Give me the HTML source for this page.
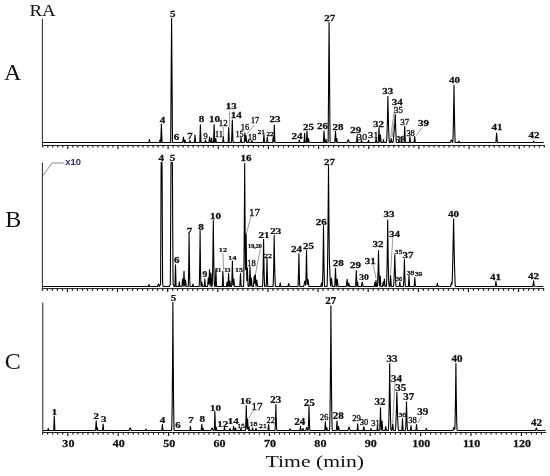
<!DOCTYPE html>
<html><head><meta charset="utf-8"><title>Chromatogram</title>
<style>html,body{margin:0;padding:0;background:#fff}svg{display:block}</style></head>
<body>
<svg width="550" height="476" viewBox="0 0 550 476">
<style>
text{font-family:"Liberation Serif",serif;fill:#111;text-anchor:middle}
.l text{stroke:#111;stroke-width:.3}
.l text.b{stroke-width:.25}
.b{font-weight:bold}
.ax{stroke:#222;stroke-width:1;fill:none}
.tk{stroke:#111;stroke-width:1.15;fill:none}
.tr{stroke:#000;stroke-width:1.1;fill:none;stroke-linejoin:round}
.ld{stroke:#555;stroke-width:0.6;fill:none}
.big{font-size:24px}
.axl{font-size:10.4px;font-weight:bold;stroke:#111;stroke-width:.25}
</style>
<rect width="550" height="476" fill="#fff"/>
<g class="l">
<line x1="42.4" y1="18.8" x2="42.4" y2="145.5" class="ax"/>
<line x1="42.4" y1="145.5" x2="544.5" y2="145.5" class="ax"/>
<path d="M42.72,145.5v2.1M47.74,145.5v2.1M52.75,145.5v2.1M57.77,145.5v2.1M62.78,145.5v2.1M67.80,145.5v3.4M72.82,145.5v2.1M77.83,145.5v2.1M82.85,145.5v2.1M87.86,145.5v2.1M92.88,145.5v2.1M97.90,145.5v2.1M102.91,145.5v2.1M107.93,145.5v2.1M112.94,145.5v2.1M117.96,145.5v3.4M122.98,145.5v2.1M127.99,145.5v2.1M133.01,145.5v2.1M138.02,145.5v2.1M143.04,145.5v2.1M148.06,145.5v2.1M153.07,145.5v2.1M158.09,145.5v2.1M163.10,145.5v2.1M168.12,145.5v3.4M173.14,145.5v2.1M178.15,145.5v2.1M183.17,145.5v2.1M188.18,145.5v2.1M193.20,145.5v2.1M198.22,145.5v2.1M203.23,145.5v2.1M208.25,145.5v2.1M213.26,145.5v2.1M218.28,145.5v3.4M223.30,145.5v2.1M228.31,145.5v2.1M233.33,145.5v2.1M238.34,145.5v2.1M243.36,145.5v2.1M248.38,145.5v2.1M253.39,145.5v2.1M258.41,145.5v2.1M263.42,145.5v2.1M268.44,145.5v3.4M273.46,145.5v2.1M278.47,145.5v2.1M283.49,145.5v2.1M288.50,145.5v2.1M293.52,145.5v2.1M298.54,145.5v2.1M303.55,145.5v2.1M308.57,145.5v2.1M313.58,145.5v2.1M318.60,145.5v3.4M323.62,145.5v2.1M328.63,145.5v2.1M333.65,145.5v2.1M338.66,145.5v2.1M343.68,145.5v2.1M348.70,145.5v2.1M353.71,145.5v2.1M358.73,145.5v2.1M363.74,145.5v2.1M368.76,145.5v3.4M373.78,145.5v2.1M378.79,145.5v2.1M383.81,145.5v2.1M388.82,145.5v2.1M393.84,145.5v2.1M398.86,145.5v2.1M403.87,145.5v2.1M408.89,145.5v2.1M413.90,145.5v2.1M418.92,145.5v3.4M423.94,145.5v2.1M428.95,145.5v2.1M433.97,145.5v2.1M438.98,145.5v2.1M444.00,145.5v2.1M449.02,145.5v2.1M454.03,145.5v2.1M459.05,145.5v2.1M464.06,145.5v2.1M469.08,145.5v3.4M474.10,145.5v2.1M479.11,145.5v2.1M484.13,145.5v2.1M489.14,145.5v2.1M494.16,145.5v2.1M499.18,145.5v2.1M504.19,145.5v2.1M509.21,145.5v2.1M514.22,145.5v2.1M519.24,145.5v3.4M524.26,145.5v2.1M529.27,145.5v2.1M534.29,145.5v2.1M539.30,145.5v2.1M544.32,145.5v2.1" class="tk"/>
<path d="M42.4,142.5 L148.8,142.5 L149.4,139.6 L150.0,142.5 L159.4,142.5 L160.0,140.0 L160.6,142.5 L160.7,142.5 L160.8,140.8 L161.4,124.0 L162.0,140.8 L162.1,142.5 L170.7,142.5 L171.6,18.5 L172.5,142.5 L182.6,142.5 L182.7,142.3 L183.4,137.0 L184.1,142.3 L184.4,142.5 L185.0,140.0 L185.6,142.5 L189.4,142.5 L190.0,140.5 L190.6,142.5 L194.4,142.5 L195.0,135.0 L195.6,142.5 L199.8,142.5 L200.4,124.8 L201.0,142.5 L204.9,142.5 L205.5,140.0 L206.1,142.5 L209.0,142.5 L209.6,137.0 L210.2,142.5 L211.0,142.5 L211.6,138.0 L212.2,142.5 L213.5,142.5 L214.1,124.6 L214.7,142.5 L215.2,142.5 L215.8,138.5 L216.4,142.5 L222.7,142.5 L223.3,136.5 L223.9,142.5 L228.1,142.5 L228.7,127.5 L229.3,142.5 L231.5,142.5 L231.6,141.9 L232.3,120.0 L233.0,141.9 L233.1,142.5 L240.4,142.5 L241.0,137.5 L241.6,142.5 L244.3,142.5 L244.9,133.0 L245.4,140.9 L245.5,141.3 L246.0,135.5 L246.6,142.5 L247.9,142.5 L248.5,139.5 L249.1,142.5 L251.4,142.5 L252.0,140.5 L252.6,142.5 L263.3,142.5 L263.9,134.5 L264.5,142.5 L266.7,142.5 L267.3,137.0 L267.9,142.5 L272.6,142.5 L273.2,137.0 L273.7,141.6 L273.8,139.6 L274.3,125.0 L274.9,142.5 L298.7,142.5 L299.3,140.0 L299.9,142.5 L304.0,142.5 L304.6,133.3 L305.2,142.5 L306.3,142.5 L306.4,141.5 L307.0,131.4 L307.6,141.5 L307.7,142.5 L307.9,142.5 L308.5,138.5 L309.1,142.5 L323.3,142.5 L323.4,141.4 L324.0,130.7 L324.6,141.4 L324.7,142.5 L325.4,142.5 L326.0,139.0 L326.6,142.5 L328.1,142.5 L328.2,135.0 L329.1,22.4 L330.0,135.0 L330.1,142.5 L334.7,142.5 L334.8,142.2 L335.5,131.4 L336.2,142.2 L336.3,141.8 L336.8,138.5 L337.4,142.5 L347.1,142.5 L348.2,139.6 L349.2,142.3 L349.3,142.5 L356.5,142.5 L357.1,135.8 L357.7,142.5 L360.9,142.5 L361.5,140.0 L362.1,142.5 L367.9,142.5 L368.5,140.2 L369.1,142.5 L375.5,142.5 L376.1,138.0 L376.7,142.5 L378.2,142.5 L378.3,142.1 L379.0,127.8 L379.7,142.1 L379.8,141.2 L380.4,135.0 L381.1,142.3 L381.2,142.5 L382.9,142.5 L383.5,139.5 L384.1,142.5 L386.3,142.5 L386.4,142.2 L386.5,141.6 L386.6,140.7 L386.7,139.4 L386.8,137.7 L386.9,135.7 L387.0,133.4 L387.1,130.6 L387.2,127.6 L387.3,124.1 L387.4,120.4 L387.5,116.2 L387.6,111.8 L387.7,106.9 L387.8,101.7 L387.9,96.2 L388.0,101.7 L388.1,106.9 L388.2,111.8 L388.3,116.2 L388.4,120.4 L388.5,124.1 L388.6,127.6 L388.7,130.6 L388.8,133.4 L388.9,135.7 L389.0,137.7 L389.1,139.4 L389.2,140.7 L389.3,141.6 L389.4,142.2 L389.5,142.5 L390.4,142.5 L390.5,142.4 L391.2,138.5 L391.9,142.4 L392.9,142.5 L393.0,142.4 L393.2,141.1 L393.4,139.3 L393.7,136.3 L394.0,132.8 L394.4,127.7 L394.8,122.1 L395.2,116.1 L395.3,114.6 L395.5,121.4 L395.7,127.7 L395.9,133.4 L396.0,136.0 L396.1,138.4 L396.2,140.4 L396.3,142.1 L396.4,142.5 L398.4,142.5 L399.0,139.5 L399.6,142.5 L400.9,142.5 L401.5,137.5 L402.1,142.5 L404.0,142.5 L404.1,141.0 L404.7,126.3 L405.3,141.0 L405.4,142.5 L409.3,142.5 L409.9,136.6 L410.5,142.5 L414.1,142.5 L414.7,136.6 L415.3,142.5 L450.3,142.5 L451.5,140.0 L452.7,142.5 L452.8,142.5 L452.9,141.1 L453.0,138.6 L453.1,135.3 L453.2,131.4 L453.3,127.0 L453.4,122.2 L453.5,116.9 L453.6,111.2 L453.7,105.2 L453.8,98.8 L453.9,92.0 L454.0,85.0 L454.1,92.0 L454.2,98.8 L454.3,105.2 L454.4,111.2 L454.5,116.9 L454.6,122.2 L454.7,127.0 L454.8,131.4 L454.9,135.3 L455.0,138.6 L455.1,141.1 L455.2,142.5 L458.4,142.5 L459.0,141.0 L459.6,142.5 L495.8,142.5 L495.9,142.2 L496.6,133.0 L497.3,142.2 L497.4,142.5 L532.8,142.5 L533.6,141.2 L534.3,142.5 L543.8,142.5" class="tr"/>
<polyline points="223.3,127.0 223.3,135.8" class="ld"/>
<polyline points="229.6,111.6 229.6,127.0" class="ld"/>
<polyline points="254.2,125.0 247.0,134.0" class="ld"/>
<polyline points="421.6,127.8 416.5,135.6" class="ld"/>
<polyline points="395.1,105.7 390.6,137.4" class="ld"/>
<polyline points="395.4,114.0 392.0,137.4" class="ld"/>
<text transform="translate(162.6 122.8) scale(1.294 1)" font-size="8.5" class="b">4</text>
<text transform="translate(172.8 16.9) scale(1.294 1)" font-size="8.5" class="b">5</text>
<text transform="translate(176.6 140.3) scale(1.294 1)" font-size="8.5" class="b">6</text>
<text transform="translate(190.0 139.0) scale(1.294 1)" font-size="8.5" class="b">7</text>
<text transform="translate(201.4 121.8) scale(1.294 1)" font-size="8.5" class="b">8</text>
<text transform="translate(205.4 138.5) scale(1.15 1)" font-size="7.76">9</text>
<text transform="translate(214.6 121.8) scale(1.294 1)" font-size="8.5" class="b">10</text>
<text transform="translate(219.0 136.6) scale(1.15 1)" font-size="7.27">11</text>
<text transform="translate(223.3 126.2) scale(1.15 1)" font-size="7.76">12</text>
<text transform="translate(231.3 109.0) scale(1.294 1)" font-size="8.5" class="b">13</text>
<text transform="translate(236.2 118.2) scale(1.294 1)" font-size="8.5" class="b">14</text>
<text transform="translate(239.6 136.6) scale(1.15 1)" font-size="7.27">15</text>
<text transform="translate(245.0 129.6) scale(1.15 1)" font-size="7.27">16</text>
<text transform="translate(255.1 123.0) scale(1.15 1)" font-size="7.27">17</text>
<text transform="translate(252.2 139.6) scale(1.15 1)" font-size="7.27">18</text>
<text transform="translate(261.2 134.0) scale(1.15 1)" font-size="6.4">21</text>
<text transform="translate(270.0 136.4) scale(1.15 1)" font-size="6.21">22</text>
<text transform="translate(275.0 121.8) scale(1.294 1)" font-size="8.5" class="b">23</text>
<text transform="translate(297.0 139.0) scale(1.294 1)" font-size="8.5" class="b">24</text>
<text transform="translate(308.4 129.5) scale(1.294 1)" font-size="8.5" class="b">25</text>
<text transform="translate(322.6 128.8) scale(1.294 1)" font-size="8.5" class="b">26</text>
<text transform="translate(329.8 20.8) scale(1.294 1)" font-size="8.5" class="b">27</text>
<text transform="translate(338.1 129.5) scale(1.294 1)" font-size="8.5" class="b">28</text>
<text transform="translate(355.8 132.6) scale(1.294 1)" font-size="8.5" class="b">29</text>
<text transform="translate(362.0 140.3) scale(1.15 1)" font-size="9.02">30</text>
<text transform="translate(373.3 138.0) scale(1.15 1)" font-size="9.02">31</text>
<text transform="translate(378.5 126.6) scale(1.294 1)" font-size="8.5" class="b">32</text>
<text transform="translate(387.7 94.3) scale(1.294 1)" font-size="8.5" class="b">33</text>
<text transform="translate(397.3 105.0) scale(1.294 1)" font-size="8.5" class="b">34</text>
<text transform="translate(398.4 113.2) scale(1.15 1)" font-size="7.76">35</text>
<text transform="translate(400.2 140.0) scale(1.15 1)" font-size="6.3">36</text>
<text transform="translate(404.7 124.6) scale(1.15 1)" font-size="7.76">37</text>
<text transform="translate(410.6 136.2) scale(1.15 1)" font-size="7.27">38</text>
<text transform="translate(423.6 125.6) scale(1.294 1)" font-size="8.5" class="b">39</text>
<text transform="translate(454.5 83.0) scale(1.294 1)" font-size="8.5" class="b">40</text>
<text transform="translate(497.0 129.6) scale(1.294 1)" font-size="8.5" class="b">41</text>
<text transform="translate(534.0 138.4) scale(1.294 1)" font-size="8.5" class="b">42</text>
</g>
<g class="l">
<line x1="42.4" y1="162.5" x2="42.4" y2="288.6" class="ax"/>
<line x1="42.4" y1="288.6" x2="544.0" y2="288.6" class="ax"/>
<path d="M42.34,288.6v2.1M47.35,288.6v2.1M52.36,288.6v2.1M57.37,288.6v2.1M62.39,288.6v2.1M67.40,288.6v3.4M72.41,288.6v2.1M77.43,288.6v2.1M82.44,288.6v2.1M87.45,288.6v2.1M92.47,288.6v2.1M97.48,288.6v2.1M102.49,288.6v2.1M107.50,288.6v2.1M112.52,288.6v2.1M117.53,288.6v3.4M122.54,288.6v2.1M127.56,288.6v2.1M132.57,288.6v2.1M137.58,288.6v2.1M142.59,288.6v2.1M147.61,288.6v2.1M152.62,288.6v2.1M157.63,288.6v2.1M162.65,288.6v2.1M167.66,288.6v3.4M172.67,288.6v2.1M177.69,288.6v2.1M182.70,288.6v2.1M187.71,288.6v2.1M192.73,288.6v2.1M197.74,288.6v2.1M202.75,288.6v2.1M207.76,288.6v2.1M212.78,288.6v2.1M217.79,288.6v3.4M222.80,288.6v2.1M227.82,288.6v2.1M232.83,288.6v2.1M237.84,288.6v2.1M242.85,288.6v2.1M247.87,288.6v2.1M252.88,288.6v2.1M257.89,288.6v2.1M262.91,288.6v2.1M267.92,288.6v3.4M272.93,288.6v2.1M277.95,288.6v2.1M282.96,288.6v2.1M287.97,288.6v2.1M292.99,288.6v2.1M298.00,288.6v2.1M303.01,288.6v2.1M308.02,288.6v2.1M313.04,288.6v2.1M318.05,288.6v3.4M323.06,288.6v2.1M328.08,288.6v2.1M333.09,288.6v2.1M338.10,288.6v2.1M343.12,288.6v2.1M348.13,288.6v2.1M353.14,288.6v2.1M358.15,288.6v2.1M363.17,288.6v2.1M368.18,288.6v3.4M373.19,288.6v2.1M378.21,288.6v2.1M383.22,288.6v2.1M388.23,288.6v2.1M393.25,288.6v2.1M398.26,288.6v2.1M403.27,288.6v2.1M408.28,288.6v2.1M413.30,288.6v2.1M418.31,288.6v3.4M423.32,288.6v2.1M428.34,288.6v2.1M433.35,288.6v2.1M438.36,288.6v2.1M443.38,288.6v2.1M448.39,288.6v2.1M453.40,288.6v2.1M458.41,288.6v2.1M463.43,288.6v2.1M468.44,288.6v3.4M473.45,288.6v2.1M478.47,288.6v2.1M483.48,288.6v2.1M488.49,288.6v2.1M493.50,288.6v2.1M498.52,288.6v2.1M503.53,288.6v2.1M508.54,288.6v2.1M513.56,288.6v2.1M518.57,288.6v3.4M523.58,288.6v2.1M528.60,288.6v2.1M533.61,288.6v2.1M538.62,288.6v2.1M543.63,288.6v2.1" class="tk"/>
<path d="M42.4,286.5 L148.4,286.5 L149.0,284.5 L149.6,286.5 L157.5,286.5 L158.5,284.0 L159.4,286.3 L159.5,286.5 L159.6,286.4 L160.5,283.9 L160.6,282.1 L161.1,171.0 L161.2,162.5 L162.0,162.5 L162.1,171.0 L162.6,282.1 L162.7,284.4 L163.4,286.4 L169.3,286.5 L170.3,284.2 L170.4,272.2 L171.0,165.0 L171.1,162.5 L172.3,162.5 L172.4,165.0 L173.0,272.2 L173.1,284.2 L174.1,286.5 L174.9,286.5 L175.5,264.8 L176.1,286.5 L178.7,286.5 L179.3,281.8 L179.9,286.5 L181.8,286.5 L181.9,286.3 L182.6,279.0 L183.2,285.3 L183.3,286.1 L184.0,271.4 L184.7,286.1 L184.8,286.3 L185.5,280.0 L186.2,286.3 L188.1,286.5 L188.2,286.1 L188.3,284.4 L188.4,281.6 L188.5,277.6 L188.6,272.7 L188.7,266.8 L188.8,260.1 L188.9,252.4 L189.0,243.9 L189.1,234.6 L189.2,243.9 L189.3,252.4 L189.4,260.1 L189.5,266.8 L189.6,272.7 L189.7,277.6 L189.8,281.6 L189.9,284.4 L190.0,286.1 L190.1,286.5 L192.4,286.5 L193.0,284.0 L193.6,286.5 L199.1,286.5 L199.2,286.1 L199.3,284.3 L199.4,281.2 L199.5,277.0 L199.6,271.7 L199.7,265.4 L199.8,258.1 L199.9,249.9 L200.0,240.8 L200.1,230.8 L200.2,240.8 L200.3,249.9 L200.4,258.1 L200.5,265.4 L200.6,271.7 L200.7,277.0 L200.8,281.2 L200.9,284.3 L201.0,286.1 L201.1,286.4 L201.8,282.0 L202.5,286.4 L204.2,286.5 L204.8,279.0 L205.4,286.5 L207.5,286.5 L207.6,286.3 L208.3,278.0 L208.8,283.9 L208.9,283.7 L209.5,269.5 L210.2,286.0 L210.9,273.0 L211.6,286.1 L211.7,286.5 L212.0,286.5 L212.1,286.0 L212.2,284.7 L212.3,282.6 L212.4,279.8 L212.5,276.2 L212.6,271.9 L212.7,266.8 L212.8,261.0 L212.9,254.4 L213.0,247.0 L213.1,238.9 L213.2,230.0 L213.3,220.4 L213.4,230.0 L213.5,238.9 L213.6,247.0 L213.7,254.4 L213.8,261.0 L213.9,266.8 L214.0,271.9 L214.1,276.2 L214.2,279.8 L214.3,282.6 L214.4,284.7 L214.5,286.0 L214.6,286.5 L215.3,286.5 L215.9,269.0 L216.5,286.5 L222.3,286.5 L222.9,271.4 L223.5,286.5 L226.4,286.5 L227.0,282.0 L227.6,286.5 L228.0,286.5 L228.6,273.3 L229.2,286.5 L229.4,286.5 L230.0,281.0 L230.6,286.5 L231.5,286.5 L231.6,286.2 L231.7,284.8 L231.8,282.6 L231.9,279.9 L232.0,276.8 L232.1,273.4 L232.2,269.5 L232.3,265.4 L232.4,261.0 L232.5,265.4 L232.6,269.5 L232.7,273.4 L232.8,276.8 L232.9,279.9 L233.0,282.6 L233.1,284.8 L233.2,285.2 L233.8,279.0 L234.5,286.3 L234.6,286.5 L239.8,286.5 L239.9,285.3 L240.5,273.3 L241.1,285.3 L241.2,286.5 L243.5,286.5 L243.6,285.1 L243.7,281.6 L243.8,276.4 L243.9,269.5 L244.0,261.1 L244.1,251.2 L244.2,239.9 L244.3,227.2 L244.4,213.2 L244.5,197.9 L244.6,181.3 L244.7,163.5 L244.8,181.3 L244.9,197.9 L245.0,213.2 L245.1,227.2 L245.2,239.9 L245.3,251.2 L245.4,261.1 L245.5,269.5 L245.6,265.2 L246.1,234.0 L246.8,277.8 L246.9,280.8 L247.4,268.0 L248.1,286.0 L248.2,286.5 L249.2,286.5 L249.3,285.9 L250.0,266.7 L250.7,286.0 L250.8,285.1 L251.4,278.0 L252.1,286.3 L252.2,286.5 L253.4,286.5 L253.5,286.2 L254.2,276.0 L254.7,283.3 L254.8,282.8 L255.3,274.3 L256.0,286.2 L256.1,286.3 L256.8,280.0 L257.5,286.3 L262.4,286.5 L262.5,286.2 L262.6,285.2 L262.7,283.6 L262.8,281.3 L262.9,278.3 L263.0,274.7 L263.1,270.4 L263.2,265.5 L263.3,260.0 L263.4,253.7 L263.5,246.8 L263.6,239.3 L263.7,246.8 L263.8,253.7 L263.9,259.9 L264.0,265.5 L264.1,270.4 L264.2,274.7 L264.3,278.3 L264.4,281.3 L264.5,283.5 L264.6,285.2 L264.7,286.2 L264.8,286.5 L266.1,286.5 L266.2,286.2 L266.3,284.6 L266.4,282.2 L266.5,279.2 L266.6,275.8 L266.7,271.9 L266.8,267.7 L266.9,263.1 L267.0,258.2 L267.1,263.1 L267.2,267.7 L267.3,271.9 L267.4,275.8 L267.5,279.2 L267.6,282.2 L267.7,284.6 L267.8,286.2 L267.9,286.5 L272.8,286.5 L272.9,286.5 L273.0,286.1 L273.1,285.1 L273.2,283.5 L273.3,281.3 L273.4,278.6 L273.5,275.2 L273.6,271.3 L273.7,266.8 L273.8,261.7 L273.9,256.0 L274.0,249.8 L274.1,242.9 L274.2,235.5 L274.3,242.9 L274.4,249.8 L274.5,256.0 L274.6,261.7 L274.7,266.8 L274.8,271.3 L274.9,275.2 L275.0,278.6 L275.1,281.3 L275.2,283.5 L275.3,285.1 L275.4,286.1 L275.5,286.5 L279.6,286.5 L280.2,282.8 L280.8,286.5 L287.9,286.5 L288.0,286.4 L288.7,283.5 L289.4,286.4 L297.9,286.5 L298.0,286.1 L298.1,284.6 L298.2,282.4 L298.3,279.6 L298.4,276.3 L298.5,272.6 L298.6,268.4 L298.7,263.8 L298.8,258.8 L298.9,253.5 L299.0,258.8 L299.1,263.8 L299.2,268.4 L299.3,272.6 L299.4,276.3 L299.5,279.6 L299.6,282.4 L299.7,284.6 L299.8,286.1 L299.9,286.5 L303.7,286.5 L304.8,281.0 L305.6,285.1 L305.7,284.4 L305.8,282.0 L305.9,279.0 L306.0,275.3 L306.1,271.2 L306.2,266.6 L306.3,261.6 L306.4,256.1 L306.5,250.3 L306.6,256.1 L306.7,261.6 L306.8,266.6 L306.9,271.2 L307.0,275.3 L307.1,279.0 L307.2,282.0 L307.3,284.4 L308.0,279.5 L308.9,286.1 L309.0,286.5 L320.7,286.5 L320.8,286.4 L321.5,283.0 L322.2,286.4 L322.3,286.5 L322.4,285.8 L322.5,284.1 L322.6,281.5 L322.7,278.1 L322.8,273.9 L322.9,269.0 L323.0,263.5 L323.1,257.2 L323.2,250.3 L323.3,242.7 L323.4,234.5 L323.5,225.7 L323.6,234.5 L323.7,242.7 L323.8,250.3 L323.9,257.2 L324.0,263.5 L324.1,269.0 L324.2,273.9 L324.3,278.1 L324.4,281.5 L324.5,284.1 L324.6,285.8 L324.7,286.5 L327.0,286.5 L327.1,286.1 L327.2,283.6 L327.3,279.6 L327.4,274.5 L327.5,268.4 L327.6,261.4 L327.7,253.5 L327.8,244.9 L327.9,235.5 L328.0,225.5 L328.1,214.8 L328.2,203.4 L328.3,191.5 L328.4,178.9 L328.5,165.8 L328.6,178.9 L328.7,191.5 L328.8,203.4 L328.9,214.8 L329.0,225.5 L329.1,235.5 L329.2,244.9 L329.3,253.5 L329.4,260.9 L329.6,266.3 L329.8,271.3 L330.0,275.8 L330.2,279.7 L330.4,283.0 L330.5,284.4 L330.6,285.5 L330.7,286.1 L331.5,278.0 L332.3,286.1 L332.4,286.5 L334.7,286.5 L334.8,286.0 L335.5,268.3 L336.2,286.0 L336.3,286.5 L336.4,286.1 L337.2,279.0 L338.0,286.1 L338.1,286.5 L346.2,286.5 L346.3,286.2 L347.1,279.3 L347.9,286.2 L348.0,286.5 L348.1,286.4 L348.8,283.0 L349.5,286.4 L355.6,286.5 L355.7,285.0 L356.3,270.5 L356.9,285.0 L357.0,286.5 L357.6,282.0 L358.2,286.5 L361.3,286.5 L361.4,286.3 L362.2,282.0 L363.0,286.3 L363.1,286.5 L374.2,286.5 L374.8,282.5 L375.4,286.5 L376.0,280.3 L376.6,286.5 L377.4,286.5 L377.5,285.9 L377.6,284.5 L377.7,282.4 L377.8,279.8 L377.9,276.7 L378.0,273.2 L378.1,269.4 L378.2,265.2 L378.3,260.6 L378.4,255.8 L378.5,250.6 L378.6,255.8 L378.7,260.6 L378.8,265.2 L378.9,269.4 L379.0,273.2 L379.1,276.7 L379.2,279.8 L379.3,282.4 L379.4,284.5 L379.5,285.9 L379.6,284.7 L380.2,276.0 L380.9,286.2 L381.0,286.5 L382.6,286.5 L383.2,282.0 L383.7,285.8 L383.8,285.2 L384.4,279.0 L385.1,286.3 L385.2,286.5 L386.2,286.5 L386.3,286.4 L386.4,285.9 L386.5,284.7 L386.6,282.8 L386.7,280.3 L386.8,277.2 L386.9,273.4 L387.0,269.0 L387.1,263.9 L387.2,258.2 L387.3,251.9 L387.4,244.9 L387.5,237.3 L387.6,229.0 L387.7,220.1 L387.8,229.0 L387.9,237.3 L388.0,244.9 L388.1,251.9 L388.2,258.2 L388.3,263.9 L388.4,269.0 L388.5,273.4 L388.6,277.2 L388.7,280.3 L388.8,282.8 L388.9,284.7 L389.0,285.9 L389.1,286.4 L389.8,286.5 L389.9,286.2 L390.6,275.6 L391.3,286.2 L391.4,286.5 L393.4,286.5 L393.5,286.5 L393.6,285.8 L393.7,284.7 L393.8,283.2 L393.9,281.4 L394.0,279.4 L394.1,277.0 L394.2,274.5 L394.3,271.7 L394.4,268.7 L394.6,262.1 L394.8,254.8 L395.0,262.1 L395.2,268.7 L395.3,271.7 L395.4,274.5 L395.5,277.0 L395.6,279.4 L395.7,281.4 L395.8,283.2 L395.9,284.7 L396.0,285.8 L396.1,286.5 L399.2,286.5 L399.8,282.0 L400.4,286.5 L403.3,286.5 L403.4,286.2 L403.5,285.2 L403.6,283.8 L403.7,281.9 L403.8,279.7 L403.9,277.1 L404.0,274.2 L404.1,270.9 L404.2,267.4 L404.3,263.5 L404.4,259.4 L404.5,263.5 L404.6,267.4 L404.7,270.9 L404.8,274.2 L404.9,277.1 L405.0,279.7 L405.1,281.9 L405.2,283.8 L405.3,285.2 L405.4,286.2 L405.5,286.5 L408.4,286.5 L409.0,275.6 L409.6,286.5 L414.1,286.5 L414.2,285.7 L414.8,277.5 L415.4,285.7 L415.5,286.5 L436.6,286.5 L436.7,286.4 L437.4,283.4 L438.1,286.4 L450.6,286.5 L451.6,282.5 L452.0,284.2 L452.1,282.7 L452.2,280.4 L452.3,277.8 L452.4,274.8 L452.5,271.6 L452.6,268.0 L452.7,264.2 L452.8,260.1 L452.9,255.8 L453.0,251.2 L453.1,246.3 L453.2,241.3 L453.3,236.0 L453.4,230.5 L453.5,224.8 L453.6,218.9 L453.7,224.8 L453.8,230.5 L453.9,236.0 L454.0,241.3 L454.1,246.3 L454.2,251.2 L454.3,255.8 L454.4,260.1 L454.5,264.2 L454.6,268.0 L454.7,271.6 L454.8,274.8 L454.9,277.8 L455.0,280.4 L455.1,282.7 L455.2,284.5 L455.3,285.8 L455.4,286.5 L495.1,286.5 L495.2,286.4 L495.9,281.3 L496.6,286.4 L532.8,286.5 L532.9,286.3 L533.6,280.9 L534.3,286.3 L543.3,286.5" class="tr"/>
<polyline points="222.9,253.0 223.6,270.0" class="ld"/>
<polyline points="250.9,216.6 246.2,234.6" class="ld"/>
<polyline points="260.4,248.8 255.6,273.3" class="ld"/>
<polyline points="373.1,264.5 376.2,279.1" class="ld"/>
<polyline points="392.8,237.5 390.5,274.5" class="ld"/>
<text transform="translate(161.3 160.6) scale(1.31 1)" font-size="8.4" class="b">4</text>
<text transform="translate(172.5 160.6) scale(1.31 1)" font-size="8.4" class="b">5</text>
<text transform="translate(176.7 263.0) scale(1.31 1)" font-size="8.4" class="b">6</text>
<text transform="translate(189.5 234.2) scale(1.31 1)" font-size="8.4" class="b">7</text>
<text transform="translate(201.0 229.8) scale(1.31 1)" font-size="8.4" class="b">8</text>
<text transform="translate(205.0 277.0) scale(1.18 1)" font-size="8.1" class="b">9</text>
<text transform="translate(215.4 218.5) scale(1.31 1)" font-size="8.4" class="b">10</text>
<text transform="translate(218.2 271.8) scale(1.18 1)" font-size="5.4" class="b">11</text>
<text transform="translate(222.9 252.2) scale(1.18 1)" font-size="6.84" class="b">12</text>
<text transform="translate(227.3 271.8) scale(1.18 1)" font-size="5.4" class="b">13</text>
<text transform="translate(232.4 259.8) scale(1.18 1)" font-size="6.84" class="b">14</text>
<text transform="translate(239.0 271.6) scale(1.18 1)" font-size="6.84" class="b">15</text>
<text transform="translate(246.0 161.0) scale(1.31 1)" font-size="8.4" class="b">16</text>
<text transform="translate(254.6 216.2) scale(1.091 1)" font-size="10.08">17</text>
<text transform="translate(251.6 266.2) scale(1.18 1)" font-size="7.2">18</text>
<text transform="translate(255.0 248.0) scale(1.18 1)" font-size="5.22" class="b">19,20</text>
<text transform="translate(263.9 238.2) scale(1.213 1)" font-size="9.07" class="b">21</text>
<text transform="translate(268.0 258.0) scale(1.18 1)" font-size="6.75">22</text>
<text transform="translate(275.7 234.4) scale(1.213 1)" font-size="9.07" class="b">23</text>
<text transform="translate(296.4 251.9) scale(1.31 1)" font-size="8.4" class="b">24</text>
<text transform="translate(308.6 248.7) scale(1.31 1)" font-size="8.4" class="b">25</text>
<text transform="translate(321.2 225.0) scale(1.31 1)" font-size="8.4" class="b">26</text>
<text transform="translate(329.6 164.5) scale(1.31 1)" font-size="8.4" class="b">27</text>
<text transform="translate(338.2 266.0) scale(1.31 1)" font-size="8.4" class="b">28</text>
<text transform="translate(355.5 267.8) scale(1.31 1)" font-size="8.4" class="b">29</text>
<text transform="translate(364.0 279.8) scale(1.18 1)" font-size="8.1" class="b">30</text>
<text transform="translate(370.3 263.6) scale(1.31 1)" font-size="8.4" class="b">31</text>
<text transform="translate(378.1 247.4) scale(1.31 1)" font-size="8.4" class="b">32</text>
<text transform="translate(389.0 217.3) scale(1.31 1)" font-size="8.4" class="b">33</text>
<text transform="translate(394.6 237.0) scale(1.31 1)" font-size="8.4" class="b">34</text>
<text transform="translate(398.4 253.7) scale(1.18 1)" font-size="6.48">35</text>
<text transform="translate(398.9 280.7) scale(1.18 1)" font-size="5.4">36</text>
<text transform="translate(407.9 258.3) scale(1.31 1)" font-size="8.4" class="b">37</text>
<text transform="translate(410.5 274.5) scale(1.18 1)" font-size="6.48">38</text>
<text transform="translate(418.6 276.3) scale(1.18 1)" font-size="6.48">39</text>
<text transform="translate(453.4 217.3) scale(1.31 1)" font-size="8.4" class="b">40</text>
<text transform="translate(495.5 279.5) scale(1.31 1)" font-size="8.4" class="b">41</text>
<text transform="translate(533.5 278.6) scale(1.31 1)" font-size="8.4" class="b">42</text>
</g>
<g class="l">
<line x1="42.8" y1="302.6" x2="42.8" y2="432.5" class="ax"/>
<line x1="42.8" y1="432.5" x2="546.3" y2="432.5" class="ax"/>
<path d="M42.60,432.5v2.1M47.64,432.5v2.1M52.68,432.5v2.1M57.72,432.5v2.1M62.76,432.5v2.1M67.80,432.5v3.4M72.84,432.5v2.1M77.88,432.5v2.1M82.92,432.5v2.1M87.96,432.5v2.1M93.00,432.5v2.1M98.04,432.5v2.1M103.08,432.5v2.1M108.12,432.5v2.1M113.16,432.5v2.1M118.20,432.5v3.4M123.24,432.5v2.1M128.28,432.5v2.1M133.32,432.5v2.1M138.36,432.5v2.1M143.40,432.5v2.1M148.44,432.5v2.1M153.48,432.5v2.1M158.52,432.5v2.1M163.56,432.5v2.1M168.60,432.5v3.4M173.64,432.5v2.1M178.68,432.5v2.1M183.72,432.5v2.1M188.76,432.5v2.1M193.80,432.5v2.1M198.84,432.5v2.1M203.88,432.5v2.1M208.92,432.5v2.1M213.96,432.5v2.1M219.00,432.5v3.4M224.04,432.5v2.1M229.08,432.5v2.1M234.12,432.5v2.1M239.16,432.5v2.1M244.20,432.5v2.1M249.24,432.5v2.1M254.28,432.5v2.1M259.32,432.5v2.1M264.36,432.5v2.1M269.40,432.5v3.4M274.44,432.5v2.1M279.48,432.5v2.1M284.52,432.5v2.1M289.56,432.5v2.1M294.60,432.5v2.1M299.64,432.5v2.1M304.68,432.5v2.1M309.72,432.5v2.1M314.76,432.5v2.1M319.80,432.5v3.4M324.84,432.5v2.1M329.88,432.5v2.1M334.92,432.5v2.1M339.96,432.5v2.1M345.00,432.5v2.1M350.04,432.5v2.1M355.08,432.5v2.1M360.12,432.5v2.1M365.16,432.5v2.1M370.20,432.5v3.4M375.24,432.5v2.1M380.28,432.5v2.1M385.32,432.5v2.1M390.36,432.5v2.1M395.40,432.5v2.1M400.44,432.5v2.1M405.48,432.5v2.1M410.52,432.5v2.1M415.56,432.5v2.1M420.60,432.5v3.4M425.64,432.5v2.1M430.68,432.5v2.1M435.72,432.5v2.1M440.76,432.5v2.1M445.80,432.5v2.1M450.84,432.5v2.1M455.88,432.5v2.1M460.92,432.5v2.1M465.96,432.5v2.1M471.00,432.5v3.4M476.04,432.5v2.1M481.08,432.5v2.1M486.12,432.5v2.1M491.16,432.5v2.1M496.20,432.5v2.1M501.24,432.5v2.1M506.28,432.5v2.1M511.32,432.5v2.1M516.36,432.5v2.1M521.40,432.5v3.4M526.44,432.5v2.1M531.48,432.5v2.1M536.52,432.5v2.1M541.56,432.5v2.1" class="tk"/>
<path d="M42.8,430.5 L47.7,430.5 L48.3,428.5 L48.9,430.5 L53.7,430.5 L54.3,416.0 L54.9,430.5 L95.6,430.5 L96.2,420.8 L96.7,428.9 L96.8,430.0 L97.3,427.5 L97.9,430.5 L102.5,430.5 L103.1,424.0 L103.7,430.5 L129.1,430.5 L130.2,427.7 L131.2,430.3 L131.3,430.5 L145.2,430.5 L146.0,429.0 L146.7,430.5 L161.8,430.5 L162.4,424.5 L163.0,430.5 L171.5,430.5 L171.6,430.5 L171.7,429.4 L171.8,426.9 L171.9,423.0 L172.0,417.5 L172.1,410.6 L172.2,402.2 L172.3,392.3 L172.4,381.0 L172.5,368.2 L172.6,353.9 L172.7,338.1 L172.8,320.9 L172.9,302.2 L173.0,320.9 L173.1,338.1 L173.2,353.9 L173.3,368.2 L173.4,381.0 L173.5,392.3 L173.6,402.2 L173.7,410.6 L173.8,417.5 L173.9,423.0 L174.0,426.9 L174.1,429.4 L174.2,430.5 L189.8,430.5 L190.4,426.4 L191.0,430.5 L201.2,430.5 L201.8,424.2 L202.4,430.5 L203.0,428.3 L203.6,430.5 L210.8,430.5 L212.0,428.0 L213.2,430.5 L214.1,430.5 L214.2,430.4 L214.3,429.0 L214.4,426.9 L214.5,424.4 L214.6,421.6 L214.7,418.5 L214.8,415.1 L214.9,411.5 L215.0,415.1 L215.1,418.5 L215.2,421.6 L215.3,424.4 L215.4,426.9 L215.5,429.0 L215.6,430.4 L216.2,427.0 L216.8,430.5 L223.9,430.5 L224.5,427.3 L225.1,430.5 L229.4,430.5 L230.0,428.5 L230.6,430.5 L233.0,430.5 L233.6,426.4 L234.2,430.5 L234.9,430.5 L235.5,428.0 L236.1,430.5 L240.4,430.5 L241.0,428.3 L241.6,430.5 L245.4,430.5 L245.5,430.2 L245.6,428.8 L245.7,426.7 L245.8,424.1 L245.9,421.0 L246.0,417.6 L246.1,413.9 L246.2,409.8 L246.3,405.5 L246.4,409.8 L246.5,413.9 L246.6,417.6 L246.7,421.0 L246.8,424.1 L246.9,426.7 L247.0,428.8 L247.1,427.7 L247.6,419.0 L248.2,429.5 L248.3,430.5 L248.4,430.5 L249.0,427.0 L249.6,430.5 L252.0,430.5 L252.6,428.0 L253.2,430.5 L255.4,430.5 L256.0,428.3 L256.6,430.5 L268.0,430.5 L268.6,424.5 L269.2,430.5 L274.9,430.5 L275.0,430.3 L275.1,429.3 L275.2,427.7 L275.3,425.6 L275.4,423.1 L275.5,420.1 L275.6,416.7 L275.7,413.0 L275.8,408.9 L275.9,404.5 L276.0,408.9 L276.1,413.0 L276.2,416.7 L276.3,420.1 L276.4,423.1 L276.5,425.6 L276.6,427.7 L276.7,429.3 L276.8,430.3 L276.9,430.5 L289.2,430.5 L289.3,430.4 L290.0,428.7 L290.7,430.4 L299.9,430.5 L300.5,426.4 L301.1,430.5 L302.4,430.5 L303.0,428.5 L303.6,430.5 L305.8,430.5 L306.8,427.5 L307.7,430.3 L308.0,430.5 L308.1,430.3 L308.2,429.4 L308.3,427.9 L308.4,426.0 L308.5,423.6 L308.6,420.9 L308.7,417.8 L308.8,414.3 L308.9,410.5 L309.0,406.4 L309.1,410.5 L309.2,414.3 L309.3,417.8 L309.4,420.9 L309.5,423.6 L309.6,426.0 L309.7,427.9 L309.8,429.4 L309.9,430.3 L310.0,430.5 L324.7,430.5 L324.8,429.7 L325.4,421.8 L326.0,429.7 L326.1,430.5 L326.2,430.5 L326.8,427.5 L327.4,430.5 L329.4,430.5 L329.5,430.4 L329.6,429.3 L329.7,427.0 L329.8,423.5 L329.9,418.8 L330.0,412.9 L330.1,405.8 L330.2,397.5 L330.3,388.0 L330.4,377.3 L330.5,365.4 L330.6,352.3 L330.7,338.0 L330.8,322.4 L330.9,305.7 L331.0,322.4 L331.1,338.0 L331.2,352.3 L331.3,365.4 L331.4,377.3 L331.5,388.0 L331.6,397.5 L331.7,405.8 L331.8,413.0 L331.9,418.8 L332.0,423.5 L332.1,427.0 L332.2,429.3 L332.3,430.4 L336.3,430.5 L336.4,429.6 L337.0,421.0 L337.6,429.6 L337.7,430.5 L337.9,430.4 L338.6,426.5 L339.3,430.4 L348.0,430.5 L349.1,427.0 L350.1,430.2 L350.2,430.5 L357.1,430.5 L357.7,423.7 L358.3,430.5 L363.0,430.5 L363.1,430.4 L363.8,426.7 L364.5,430.4 L370.4,430.5 L371.0,428.5 L371.6,430.5 L376.9,430.5 L377.5,426.7 L378.1,430.5 L379.6,430.5 L379.7,430.2 L379.8,428.7 L379.9,426.6 L380.0,424.1 L380.1,421.3 L380.2,418.3 L380.3,415.0 L380.5,407.8 L380.7,415.0 L380.8,418.3 L380.9,421.3 L381.0,424.1 L381.1,426.6 L381.2,428.7 L381.3,430.2 L382.0,421.0 L382.7,430.2 L382.8,430.5 L384.9,430.5 L385.0,430.4 L385.7,426.5 L386.4,430.4 L388.2,430.5 L388.3,430.4 L388.4,429.9 L388.5,428.6 L388.6,426.8 L388.7,424.3 L388.8,421.1 L388.9,417.3 L389.0,412.8 L389.1,407.7 L389.2,402.0 L389.3,395.6 L389.4,388.6 L389.5,380.9 L389.6,372.6 L389.7,363.6 L389.8,372.6 L389.9,380.9 L390.0,388.6 L390.1,395.6 L390.2,402.0 L390.3,407.7 L390.4,412.8 L390.5,417.3 L390.6,421.1 L390.7,424.3 L390.8,426.8 L390.9,428.6 L391.0,429.9 L391.1,430.4 L391.9,430.5 L392.0,430.3 L392.7,424.0 L393.4,430.3 L395.3,430.5 L395.4,430.3 L395.5,429.5 L395.6,428.3 L395.7,426.8 L395.8,425.0 L395.9,423.0 L396.0,420.8 L396.1,418.3 L396.3,412.8 L396.5,406.5 L396.7,399.6 L396.9,392.0 L397.1,399.6 L397.3,406.5 L397.5,412.8 L397.7,418.3 L397.8,420.8 L397.9,423.0 L398.0,425.0 L398.1,426.8 L398.2,428.3 L398.3,429.5 L398.4,430.3 L398.5,430.5 L401.9,430.5 L402.5,418.5 L403.1,430.5 L405.4,430.5 L405.5,430.2 L405.6,429.1 L405.7,427.6 L405.8,425.6 L405.9,423.2 L406.0,420.5 L406.1,417.4 L406.2,413.9 L406.3,410.2 L406.4,406.1 L406.5,401.7 L406.6,406.1 L406.7,410.2 L406.8,413.9 L406.9,417.4 L407.0,420.5 L407.1,423.2 L407.2,425.6 L407.3,427.6 L407.4,429.1 L407.5,430.2 L407.6,430.5 L410.4,430.5 L411.0,425.5 L411.6,430.5 L415.9,430.5 L416.5,424.6 L417.1,430.5 L425.5,430.5 L425.6,430.4 L426.3,428.3 L427.0,430.4 L452.9,430.5 L454.0,427.5 L454.7,429.4 L454.8,428.6 L454.9,426.6 L455.0,423.7 L455.1,420.1 L455.2,415.7 L455.3,410.5 L455.4,404.6 L455.5,397.9 L455.6,390.4 L455.7,382.2 L455.8,373.2 L455.9,363.4 L456.0,373.2 L456.1,382.2 L456.2,390.4 L456.3,397.9 L456.4,404.6 L456.5,410.5 L456.6,415.7 L456.7,420.1 L456.8,423.7 L456.9,426.6 L457.0,428.6 L457.1,429.9 L457.2,430.5 L535.5,430.5 L536.4,428.0 L537.2,430.4 L545.6,430.5" class="tr"/>
<polyline points="253.2,410.9 248.6,418.2" class="ld"/>
<polyline points="394.9,382.8 392.7,423.0" class="ld"/>
<polyline points="421.7,416.3 418.0,423.0" class="ld"/>
<text transform="translate(54.5 414.5) scale(1.222 1)" font-size="9.0" class="b">1</text>
<text transform="translate(96.3 418.6) scale(1.222 1)" font-size="9.0" class="b">2</text>
<text transform="translate(103.7 421.7) scale(1.222 1)" font-size="9.0" class="b">3</text>
<text transform="translate(162.5 422.7) scale(1.222 1)" font-size="9.0" class="b">4</text>
<text transform="translate(173.5 300.6) scale(1.222 1)" font-size="9.0" class="b">5</text>
<text transform="translate(178.0 428.2) scale(1.222 1)" font-size="9.0" class="b">6</text>
<text transform="translate(191.1 423.3) scale(1.222 1)" font-size="9.0" class="b">7</text>
<text transform="translate(202.2 422.4) scale(1.222 1)" font-size="9.0" class="b">8</text>
<text transform="translate(215.5 410.5) scale(1.222 1)" font-size="9.0" class="b">10</text>
<text transform="translate(222.7 427.3) scale(1.222 1)" font-size="9.0" class="b">12</text>
<text transform="translate(233.3 424.2) scale(1.222 1)" font-size="9.0" class="b">14</text>
<text transform="translate(241.1 427.8) scale(1.12 1)" font-size="7.0">15</text>
<text transform="translate(245.6 404.2) scale(1.222 1)" font-size="9.0" class="b">16</text>
<text transform="translate(257.1 409.6) scale(1.164 1)" font-size="9.45">17</text>
<text transform="translate(253.6 426.4) scale(1.12 1)" font-size="7.0">18</text>
<text transform="translate(262.9 427.8) scale(1.12 1)" font-size="7.0">21</text>
<text transform="translate(270.7 423.0) scale(1.12 1)" font-size="7.5">22</text>
<text transform="translate(275.7 403.0) scale(1.063 1)" font-size="10.35" class="b">23</text>
<text transform="translate(299.8 424.5) scale(1.063 1)" font-size="10.35" class="b">24</text>
<text transform="translate(309.3 405.5) scale(1.063 1)" font-size="10.35" class="b">25</text>
<text transform="translate(324.2 420.2) scale(1.12 1)" font-size="7.4">26</text>
<text transform="translate(330.7 303.5) scale(1.063 1)" font-size="10.35" class="b">27</text>
<text transform="translate(338.3 419.0) scale(1.063 1)" font-size="10.35" class="b">28</text>
<text transform="translate(356.5 421.0) scale(1.12 1)" font-size="7.6">29</text>
<text transform="translate(364.0 425.0) scale(1.12 1)" font-size="7.6">30</text>
<text transform="translate(375.5 425.5) scale(1.12 1)" font-size="7.5">31</text>
<text transform="translate(380.1 405.4) scale(1.063 1)" font-size="10.35" class="b">32</text>
<text transform="translate(392.0 362.0) scale(1.063 1)" font-size="10.35" class="b">33</text>
<text transform="translate(396.6 381.6) scale(1.063 1)" font-size="10.35" class="b">34</text>
<text transform="translate(400.8 390.7) scale(1.063 1)" font-size="10.35" class="b">35</text>
<text transform="translate(402.3 417.0) scale(1.12 1)" font-size="7.0">36</text>
<text transform="translate(408.7 400.2) scale(1.063 1)" font-size="10.35" class="b">37</text>
<text transform="translate(412.4 422.6) scale(1.12 1)" font-size="7.6">38</text>
<text transform="translate(422.7 414.5) scale(1.063 1)" font-size="10.35" class="b">39</text>
<text transform="translate(457.0 361.5) scale(1.063 1)" font-size="10.35" class="b">40</text>
<text transform="translate(536.5 426.0) scale(1.063 1)" font-size="10.35" class="b">42</text>
</g>
<text transform="translate(42.6 16.3) scale(1.1 1)" font-size="17.2">RA</text>
<text x="12.6" y="80.1" class="big">A</text>
<text x="13.2" y="227.1" class="big">B</text>
<text x="12.8" y="369.3" class="big">C</text>
<text transform="translate(68.4 446.6) scale(1.16 1)" class="axl">30</text>
<text transform="translate(118.8 446.6) scale(1.16 1)" class="axl">40</text>
<text transform="translate(169.2 446.6) scale(1.16 1)" class="axl">50</text>
<text transform="translate(219.6 446.6) scale(1.16 1)" class="axl">60</text>
<text transform="translate(270.0 446.6) scale(1.16 1)" class="axl">70</text>
<text transform="translate(320.4 446.6) scale(1.16 1)" class="axl">80</text>
<text transform="translate(370.8 446.6) scale(1.16 1)" class="axl">90</text>
<text transform="translate(421.2 446.6) scale(1.16 1)" class="axl">100</text>
<text transform="translate(471.6 446.6) scale(1.16 1)" class="axl">110</text>
<text transform="translate(522.0 446.6) scale(1.16 1)" class="axl">120</text>
<text transform="translate(314.8 467) scale(1.26 1)" font-size="17.2">Time (min)</text>
<polyline points="43,175.7 52,163 64.1,163" stroke="#557" stroke-width="0.7" fill="none"/>
<text x="73.2" y="165.3" font-size="9.4" style="font-family:'Liberation Sans',sans-serif;fill:#2b2b85;font-weight:bold">x10</text>
</svg>
</body></html>
